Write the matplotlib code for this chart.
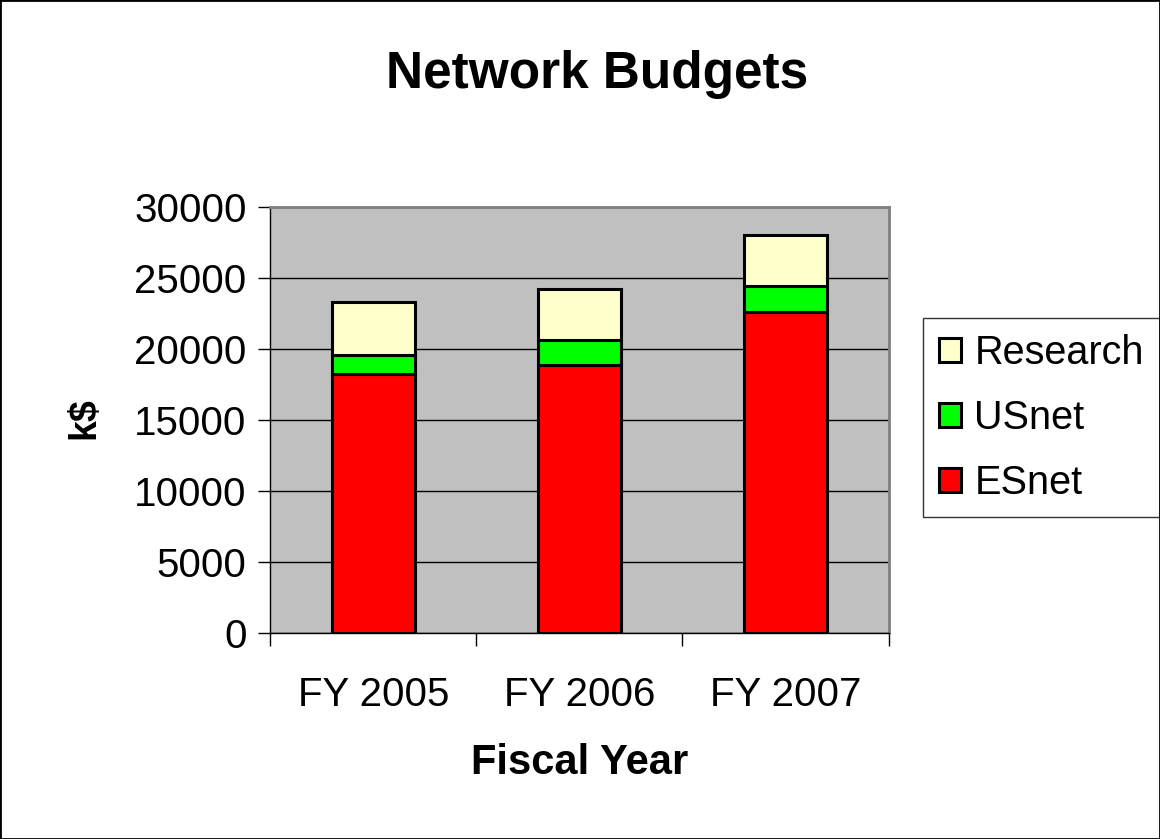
import matplotlib.pyplot as plt
import numpy as np
from matplotlib.patches import Rectangle

plt.rcParams['font.family'] = ['Liberation Sans', 'DejaVu Sans']

# data (k$)
years = ["FY 2005", "FY 2006", "FY 2007"]
esnet = [18200, 18900, 22600]
usnet = [1350, 1700, 1800]
research = [3750, 3600, 3600]

fig = plt.figure(figsize=(11.6, 8.39), dpi=100)
ax = fig.add_axes([0.233, 0.2455, 0.533, 0.508])
ax.set_facecolor('#C0C0C0')

x = np.arange(len(years))
w = 0.4
b1 = ax.bar(x, esnet, w, color='#FF0000', edgecolor='black', linewidth=2.2, label='ESnet', zorder=3)
b2 = ax.bar(x, usnet, w, bottom=esnet, color='#00FF00', edgecolor='black', linewidth=2.2, label='USnet', zorder=3)
bot = np.array(esnet) + np.array(usnet)
b3 = ax.bar(x, research, w, bottom=bot, color='#FFFFCC', edgecolor='black', linewidth=2.2, label='Research', zorder=3)

ax.set_xlim(-0.5, 2.5)
ax.set_ylim(0, 30000)
ax.set_yticks(np.arange(0, 30001, 5000))
ax.yaxis.grid(True, color='black', linewidth=1)
ax.set_axisbelow(True)

ax.set_xticks(x)
ax.set_xticklabels(years)
ax.set_xticks([-0.5, 0.5, 1.5, 2.5], minor=True)
ax.tick_params(axis='x', which='major', length=0, pad=31, labelsize=29)
ax.tick_params(axis='x', which='minor', length=9, width=1, direction='out')
ax.tick_params(axis='y', length=9, width=1, pad=8, labelsize=29)

for s in ['top', 'right']:
    ax.spines[s].set_color('#808080')
    ax.spines[s].set_linewidth(2)
for s in ['left', 'bottom']:
    ax.spines[s].set_color('black')
    ax.spines[s].set_linewidth(1)

fig.text(0.5, 0.09, "Fiscal Year", ha='center', va='center', fontsize=30, fontweight='bold')
fig.text(0.073, 0.502, "k$", ha='center', va='center', rotation=90, fontsize=27, fontweight='bold')
fig.text(0.515, 0.911, "Network Budgets", ha='center', va='center', fontsize=37, fontweight='bold')

leg = ax.legend([b3, b2, b1], ['Research', 'USnet', 'ESnet'], loc='upper left',
                bbox_to_anchor=(0.7957, 0.621), bbox_transform=fig.transFigure,
                borderaxespad=0, fancybox=False, edgecolor='black', fontsize=28.5,
                handlelength=0.55, handleheight=0.55, handletextpad=0.35,
                labelspacing=0.68, borderpad=0.4)
leg.get_frame().set_linewidth(1)

fig.patches.append(Rectangle((0, 0), 1, 1, transform=fig.transFigure, fill=False,
                             edgecolor='black', linewidth=2))

fig.savefig("out.png", dpi=100)
